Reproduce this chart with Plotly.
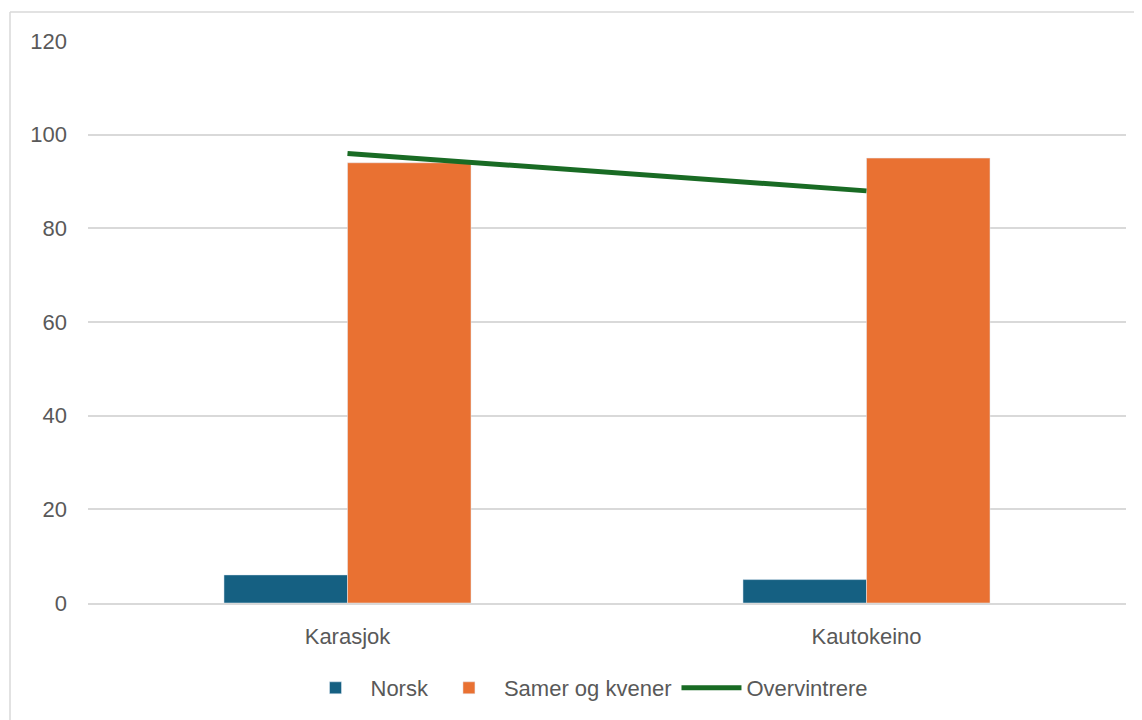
import plotly.graph_objects as go

categories = ["Karasjok", "Kautokeino"]
norsk = [6, 5]
samer = [94, 95]
overvintrere = [96, 88]
y_ticks = [0, 20, 40, 60, 80, 100, 120]

font_family = "Liberation Sans, Arial, sans-serif"

W, H = 1134, 712
L, R, T, B = 80, 16, 33, 116
PW, PH = W - L - R, H - T - B


def px_x(px):
    return (px - 8 - L) / PW


def px_y(py):
    return (H - B - (py - 8)) / PH


fig = go.Figure()
fig.add_trace(go.Bar(name="Norsk", x=categories, y=norsk, marker_color="#156082"))
fig.add_trace(go.Bar(name="Samer og kvener", x=categories, y=samer, marker_color="#E97132"))
fig.add_trace(go.Scatter(name="Overvintrere", x=categories, y=overvintrere, mode="lines",
                         line=dict(color="#196B24", width=5)))

fig.update_layout(
    width=W, height=H,
    margin=dict(l=L, r=R, t=T, b=B),
    paper_bgcolor="white", plot_bgcolor="white",
    barmode="group", bargap=0.524, bargroupgap=0,
    showlegend=True,
    legend=dict(orientation="h", x=px_x(587), xanchor="center", y=px_y(688), yanchor="middle",
                font=dict(family=font_family, size=22, color="#595959"), itemwidth=60,
                traceorder="normal"),
    xaxis=dict(showgrid=False, showline=True, linecolor="#D9D9D9", linewidth=1.5,
               ticks="", tickfont=dict(family=font_family, size=22, color="#595959"),
               ticklabelstandoff=13),
    yaxis=dict(range=[0, 120], tickvals=y_ticks, showgrid=True, gridcolor="#D9D9D9",
               gridwidth=1.5, zeroline=False, showline=False, ticks="",
               tickfont=dict(family=font_family, size=22, color="#595959"),
               ticklabelstandoff=20),
    shapes=[
        dict(type="line", xref="paper", yref="paper", x0=px_x(10), x1=px_x(10),
             y0=px_y(740), y1=px_y(12), line=dict(color="#D9D9D9", width=1.5)),
        dict(type="line", xref="paper", yref="paper", x0=px_x(10), x1=px_x(1160),
             y0=px_y(12), y1=px_y(12), line=dict(color="#D9D9D9", width=1.5)),
    ],
)

fig.write_html("out.html")
